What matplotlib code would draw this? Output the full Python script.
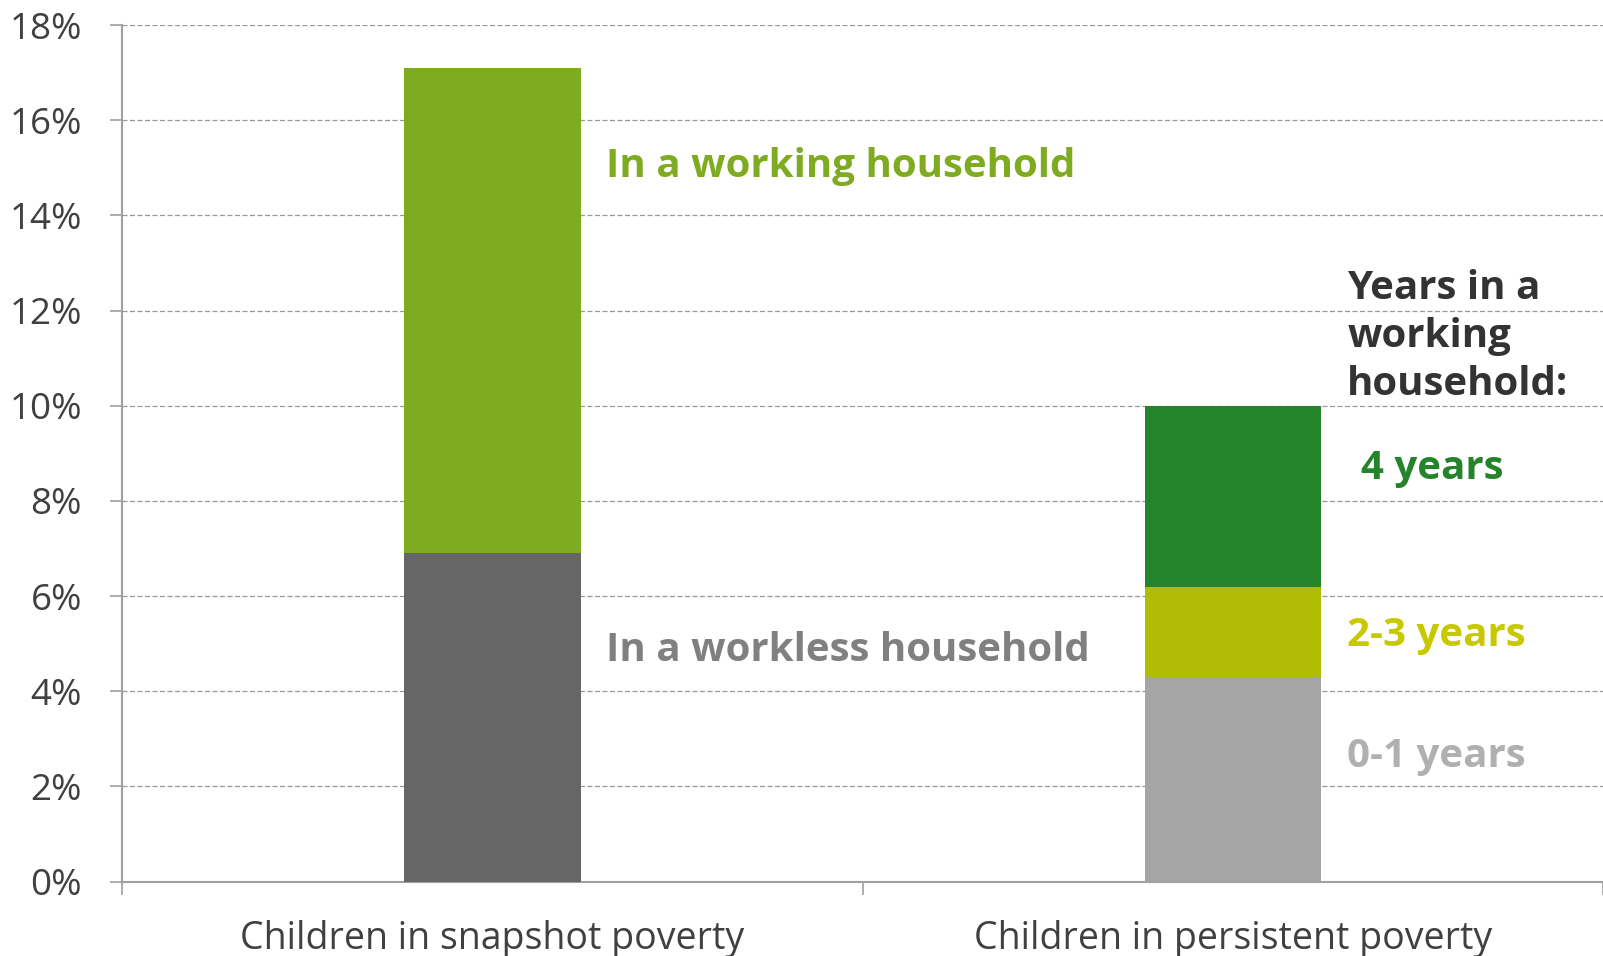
import matplotlib.pyplot as plt
import numpy as np

plt.rcParams['font.family'] = ['Open Sans', 'DejaVu Sans']

categories = ['Children in snapshot poverty', 'Children in persistent poverty']

# snapshot poverty split by household work status (%)
snap_workless = 6.9
snap_working = 10.2

# persistent poverty split by years in a working household (%)
pers_years = ['0-1 years', '2-3 years', '4 years']
pers_values = [4.3, 1.9, 3.8]

yticks = [0, 2, 4, 6, 8, 10, 12, 14, 16, 18]

c_working = '#7eab1f'
c_workless = '#666666'
pers_colors = ['#a5a5a5', '#b1bc05', '#24832b']
pers_text = ['#b0b0b0', '#c8c800', '#24832b']

fig = plt.figure(figsize=(16.03, 9.56), dpi=100)
ax = fig.add_axes([0.0763, 0.0779, 0.9237, 0.8959])

x = np.arange(len(categories))
w = 0.238

ax.bar(x[0], snap_workless, w, color=c_workless, zorder=3)
ax.bar(x[0], snap_working, w, bottom=snap_workless, color=c_working, zorder=3)

bottom = 0
for v, c in zip(pers_values, pers_colors):
    ax.bar(x[1], v, w, bottom=bottom, color=c, zorder=3)
    bottom += v

ax.set_xlim(-0.5, 1.5)
ax.set_ylim(0, 18)
ax.set_yticks(yticks)
ax.set_yticklabels([f'{t}%' for t in yticks])
ax.set_xticks(x)
ax.set_xticklabels(categories)
ax.set_xticks([-0.5, 0.5, 1.5], minor=True)

ax.grid(axis='y', color='#999999', linestyle=(0, (4, 2)), linewidth=0.9)
ax.set_axisbelow(True)

for s in ['top', 'right']:
    ax.spines[s].set_visible(False)
for s in ['left', 'bottom']:
    ax.spines[s].set_color('#a0a0a0')
    ax.spines[s].set_linewidth(1.5)

ax.tick_params(axis='y', length=9, width=1.2, color='#a0a0a0', pad=20,
               labelsize=26.5, labelcolor='#404040')
ax.tick_params(axis='x', which='major', length=0, pad=28,
               labelsize=27, labelcolor='#404040')
ax.tick_params(axis='x', which='minor', length=9, width=1.2, color='#a0a0a0')

bold = dict(fontsize=29, fontweight='bold', va='center', ha='left')
ax.text(0.1535, 15.02, 'In a working household', color=c_working, **bold)
ax.text(0.1535, 4.86, 'In a workless household', color='#808080', **bold)
ax.text(1.1545, 11.45, 'Years in a\nworking\nhousehold:', color='#333333',
        linespacing=1.3, **bold)
ax.text(1.173, 8.68, pers_years[2], color=pers_text[2], **bold)
ax.text(1.1545, 5.17, pers_years[1], color=pers_text[1], **bold)
ax.text(1.1545, 2.62, pers_years[0], color=pers_text[0], **bold)

fig.savefig('out.png', dpi=100)
